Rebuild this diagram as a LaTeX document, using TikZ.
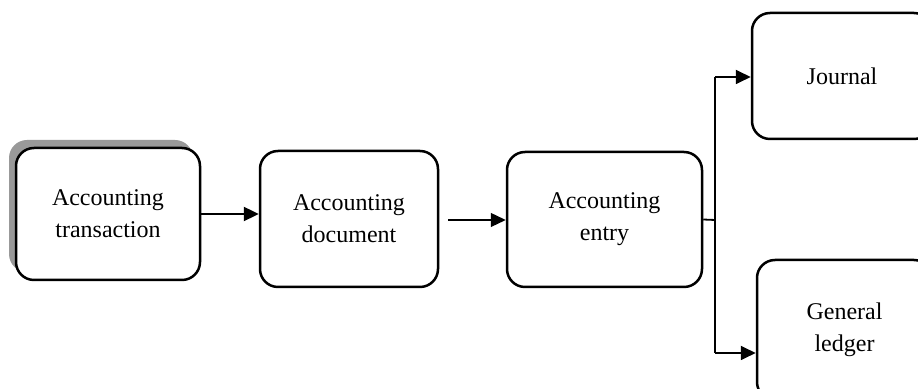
\documentclass[tikz,border=0pt]{standalone}
\usepackage{fontspec}
\setmainfont{Liberation Serif}
\usetikzlibrary{arrows.meta,shadows}
\begin{document}
\begin{tikzpicture}[x=0.5pt,y=-0.5pt,
  box/.style={draw=black, line width=1.25pt, rounded corners=9pt, fill=white,
    align=center, font=\fontsize{12pt}{16pt}\selectfont, inner sep=0pt},
  arr/.style={-{Triangle[length=7.5pt,width=7pt]}},
  thick line/.style={line width=1.2pt},
  thin line/.style={line width=0.65pt},
  mid line/.style={line width=0.9pt}]
\useasboundingbox (0,0) rectangle (918,389);
\clip (0,0) rectangle (918,389);
\node[box, minimum width=92pt, minimum height=66pt,
  drop shadow={shadow xshift=-3.5pt, shadow yshift=4pt, fill=black!40, opacity=1}]
  (b1) at (108,214) {Accounting\\transaction};
\node[box, minimum width=89pt, minimum height=68pt] (b2) at (349,219) {Accounting\\document};
\node[box, minimum width=97.5pt, minimum height=67.5pt] (b3) at (604.5,219.5) {Accounting\\entry};
\node[box, minimum width=90pt, minimum height=63pt] (jr) at (842,76) {Journal};
\node[box, minimum width=87.5pt, minimum height=70pt] (gl) at (844.5,330) {General\\ledger};
\coordinate (a2s) at (448,220);
\coordinate (br) at (715,220);
\coordinate (bt) at (715,77);
\coordinate (bb) at (715,353);
\draw[thick line, arr] (b1.east) -- (b1.east -| b2.west);
\draw[thin line, arr] (a2s) -- (a2s -| b3.west);
\draw[mid line] (b3.east) -- (br);
\draw[mid line] (bt) -- (bb);
\draw[mid line, arr] (bt) -- (bt -| jr.west);
\draw[mid line, arr] (bb) -- (bb -| gl.west);
\end{tikzpicture}
\end{document}
